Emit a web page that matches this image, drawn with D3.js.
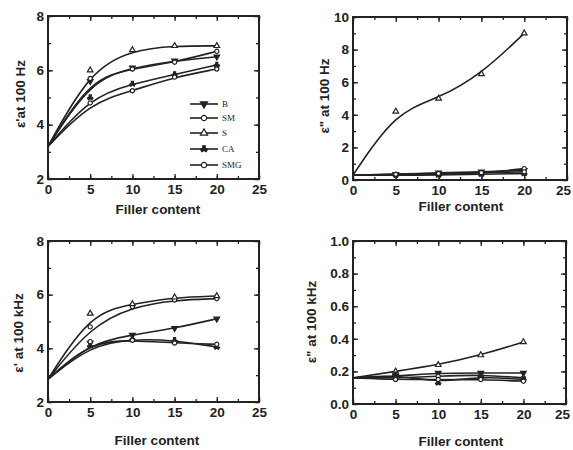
<!DOCTYPE html>
<html>
<head>
<meta charset="utf-8">
<script src="https://cdn.jsdelivr.net/npm/d3@7"></script>
<style>
  html, body { margin: 0; padding: 0; background: #fff; }
  svg { display: block; }
  .tick text { font-family: Arial, "Liberation Sans", sans-serif; font-weight: bold; font-size: 13.5px; fill: #222; }
  .axis-title { font-family: Arial, "Liberation Sans", sans-serif; font-weight: bold; font-size: 13.5px; fill: #222; }
  .legend text { font-family: "Liberation Serif", "DejaVu Serif", serif; font-size: 9px; fill: #222; }
</style>
</head>
<body>
<svg id="chart" width="573" height="450"></svg>
<script>
// Filler content (x) shared by every panel
const fillerContent = [0, 5, 10, 15, 20];
const seriesNames = ["B", "SM", "S", "CA", "SMG"];
const xTicks = [0, 5, 10, 15, 20, 25];

// Rows follow seriesNames order: B, SM, S, CA, SMG
const realAt100Hz = [
  [3.2, 5.6, 6.1, 6.35, 6.5],
  [3.2, 5.7, 6.05, 6.3, 6.7],
  [3.2, 6.0, 6.75, 6.9, 6.9],
  [3.2, 5.0, 5.5, 5.85, 6.2],
  [3.2, 4.8, 5.25, 5.75, 6.05]
];
const lossAt100Hz = [
  [0.3, 0.35, 0.45, 0.5, 0.6],
  [0.3, 0.3, 0.35, 0.4, 0.7],
  [0.3, 4.2, 5.0, 6.5, 9.0],
  [0.3, 0.3, 0.3, 0.35, 0.4],
  [0.3, 0.35, 0.4, 0.45, 0.5]
];
const realAt100kHz = [
  [2.85, 4.2, 4.5, 4.75, 5.1],
  [2.85, 4.8, 5.55, 5.8, 5.85],
  [2.85, 5.3, 5.65, 5.9, 5.95],
  [2.85, 4.1, 4.35, 4.3, 4.05],
  [2.85, 4.25, 4.3, 4.2, 4.15]
];
const lossAt100kHz = [
  [0.16, 0.17, 0.19, 0.19, 0.19],
  [0.16, 0.16, 0.17, 0.18, 0.16],
  [0.16, 0.2, 0.24, 0.3, 0.38],
  [0.16, 0.18, 0.13, 0.17, 0.15],
  [0.16, 0.15, 0.15, 0.15, 0.14]
];

const yTicksReal = [2, 4, 6, 8];
const yTicksLoss100Hz = [0, 2, 4, 6, 8, 10];
const yTicksLoss100kHz = [0.0, 0.2, 0.4, 0.6, 0.8, 1.0];

const svg = d3.select("#chart");
const ink = "#222";

// marker shapes per series
const markerDefs = {
  B:   { type: d3.symbolTriangle, rotate: 180, fill: ink },
  SM:  { type: d3.symbolCircle, rotate: 0, fill: "#fff" },
  S:   { type: d3.symbolTriangle, rotate: 0, fill: "#fff" },
  CA:  { type: d3.symbolWye, rotate: 180, fill: ink },
  SMG: { type: d3.symbolCircle, rotate: 0, fill: "#fff" }
};

function drawMarker(g, name, cx, cy, size) {
  const m = markerDefs[name];
  g.append("path")
    .attr("d", d3.symbol().type(m.type).size(size)())
    .attr("transform", `translate(${cx},${cy}) rotate(${m.rotate})`)
    .attr("fill", m.fill)
    .attr("stroke", ink)
    .attr("stroke-width", 1.2);
}

function drawPanel(opt) {
  const g = svg.append("g");
  const x = d3.scaleLinear().domain([0, 25]).range([opt.left, opt.right]);
  const y = d3.scaleLinear().domain(opt.yDomain).range([opt.bottom, opt.top]);
  const step = opt.yTicks[1] - opt.yTicks[0];
  const yMinor = d3.range(opt.yDomain[0], opt.yDomain[1] + 1e-9, step / 2);
  const xMinor = d3.range(0, 25.001, 2.5);
  const fmt = opt.yFormat || (d => d);

  // bottom axis with labels, ticks pointing inward
  const bx = g.append("g").attr("transform", `translate(0,${opt.bottom})`)
    .call(d3.axisBottom(x).tickValues(xTicks).tickSize(-5).tickPadding(5));
  // keep the last label inside the page edge
  bx.selectAll(".tick text").filter(d => x(d) > 560).attr("dx", -4);
  g.append("g").attr("transform", `translate(0,${opt.bottom})`)
    .call(d3.axisBottom(x).tickValues(xMinor).tickSize(-3).tickFormat(""));
  // top mirror ticks
  g.append("g").attr("transform", `translate(0,${opt.top})`)
    .call(d3.axisTop(x).tickValues(xTicks).tickSize(-5).tickFormat(""));
  g.append("g").attr("transform", `translate(0,${opt.top})`)
    .call(d3.axisTop(x).tickValues(xMinor).tickSize(-3).tickFormat(""));
  // left axis with labels
  g.append("g").attr("transform", `translate(${opt.left},0)`)
    .call(d3.axisLeft(y).tickValues(opt.yTicks).tickSize(-5).tickPadding(4).tickFormat(fmt));
  g.append("g").attr("transform", `translate(${opt.left},0)`)
    .call(d3.axisLeft(y).tickValues(yMinor).tickSize(-3).tickFormat(""));
  // right mirror ticks
  g.append("g").attr("transform", `translate(${opt.right},0)`)
    .call(d3.axisRight(y).tickValues(opt.yTicks).tickSize(-5).tickFormat(""));
  g.append("g").attr("transform", `translate(${opt.right},0)`)
    .call(d3.axisRight(y).tickValues(yMinor).tickSize(-3).tickFormat(""));

  g.selectAll(".domain").remove();
  g.selectAll(".tick line").attr("stroke", ink).attr("stroke-width", 1.3);
  g.selectAll(".tick text").attr("fill", ink);

  // plot frame
  g.append("rect")
    .attr("x", opt.left).attr("y", opt.top)
    .attr("width", opt.right - opt.left).attr("height", opt.bottom - opt.top)
    .attr("fill", "none").attr("stroke", ink).attr("stroke-width", 2);

  // smooth fitted curves and data markers
  const line = d3.line()
    .x((d, i) => x(fillerContent[i]))
    .y(d => y(d))
    .curve(d3.curveBasis);
  opt.data.forEach((vals, k) => {
    g.append("path")
      .attr("d", line(vals))
      .attr("fill", "none")
      .attr("stroke", ink)
      .attr("stroke-width", 1.6);
  });
  opt.data.forEach((vals, k) => {
    vals.forEach((v, i) => {
      if (i === 0) return;
      drawMarker(g, seriesNames[k], x(fillerContent[i]), y(v), 14);
    });
  });

  // axis titles
  g.append("text").attr("class", "axis-title")
    .attr("x", opt.xTitleX).attr("y", opt.xTitleY)
    .attr("text-anchor", "middle")
    .text("Filler content");
  g.append("text").attr("class", "axis-title")
    .attr("transform", `translate(${opt.yTitleX},${opt.yTitleY}) rotate(-90)`)
    .attr("text-anchor", "middle")
    .attr("dominant-baseline", "central")
    .text(opt.yTitle);

  return { g, x, y };
}

drawPanel({
  left: 48, right: 259, top: 16, bottom: 179,
  yDomain: [2, 8], yTicks: yTicksReal,
  data: realAt100Hz, yTitle: "ε'at 100 Hz",
  xTitleX: 158, xTitleY: 214, yTitleX: 20, yTitleY: 94
});
drawPanel({
  left: 353, right: 567, top: 17, bottom: 180,
  yDomain: [0, 10], yTicks: yTicksLoss100Hz,
  data: lossAt100Hz, yTitle: "ε\" at 100 Hz",
  xTitleX: 461, xTitleY: 211, yTitleX: 324, yTitleY: 96
});
drawPanel({
  left: 48, right: 259, top: 241, bottom: 402,
  yDomain: [2, 8], yTicks: yTicksReal,
  data: realAt100kHz, yTitle: "ε' at 100 kHz",
  xTitleX: 157, xTitleY: 445, yTitleX: 18, yTitleY: 333
});
drawPanel({
  left: 353, right: 566, top: 241, bottom: 404,
  yDomain: [0, 1], yTicks: yTicksLoss100kHz, yFormat: d3.format(".1f"),
  data: lossAt100kHz, yTitle: "ε\" at 100 kHz",
  xTitleX: 461, xTitleY: 446, yTitleX: 311, yTitleY: 322
});

// legend inside the first panel
const legend = svg.append("g").attr("class", "legend");
const legendRows = [104, 118, 133, 149, 165];
seriesNames.forEach((name, i) => {
  const ly = legendRows[i];
  legend.append("line")
    .attr("x1", 190).attr("x2", 218).attr("y1", ly).attr("y2", ly)
    .attr("stroke", ink).attr("stroke-width", 1.6);
  drawMarker(legend, name, 204, ly, 22);
  legend.append("text")
    .attr("x", 222).attr("y", ly)
    .attr("dominant-baseline", "central")
    .text(name);
});
</script>
</body>
</html>
